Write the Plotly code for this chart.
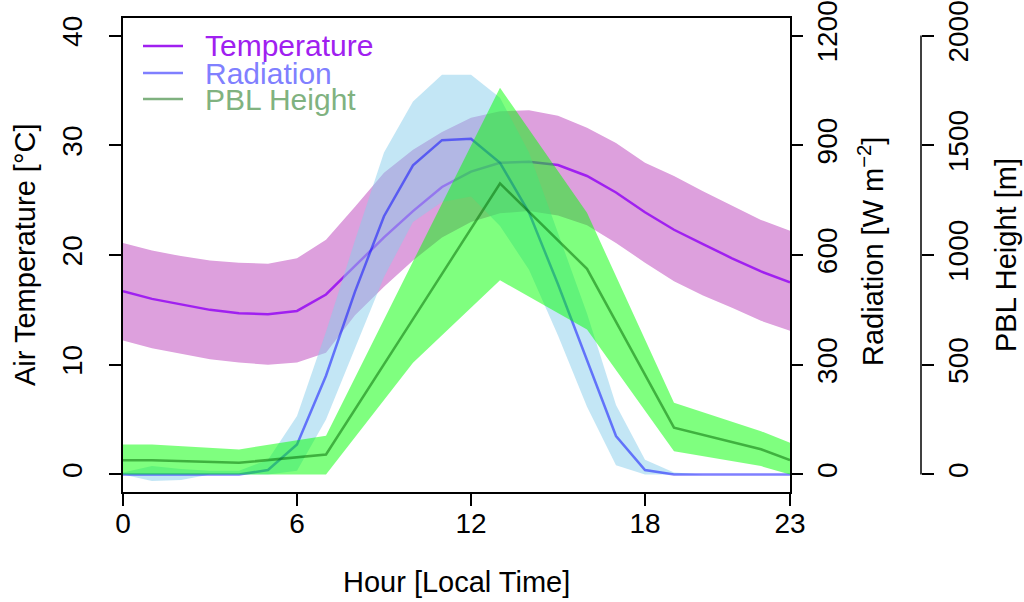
import plotly.graph_objects as go

# ---------------- data ----------------
hours = list(range(24))

temp_mean = [16.7, 16.0, 15.5, 15.0, 14.7, 14.6, 14.9, 16.4, 19.0, 21.6, 24.0, 26.2,
             27.6, 28.4, 28.5, 28.2, 27.2, 25.7, 23.9, 22.3, 21.0, 19.7, 18.5, 17.5]
temp_hi = [21.1, 20.4, 19.9, 19.5, 19.3, 19.2, 19.7, 21.4, 24.4, 27.5, 29.6, 31.2,
           32.5, 33.1, 33.2, 32.7, 31.6, 30.2, 28.4, 27.2, 25.8, 24.5, 23.2, 22.2]
temp_lo = [12.2, 11.5, 11.0, 10.5, 10.2, 10.0, 10.2, 11.1, 14.5, 17.1, 19.5, 21.6,
           23.0, 23.8, 24.0, 23.6, 22.7, 21.1, 19.3, 17.6, 16.3, 15.2, 14.0, 13.1]

rad_mean = [0, 0, 0, 0, 0, 12, 82, 270, 500, 706, 845, 914,
            918, 852, 716, 520, 310, 105, 12, 0, 0, 0, 0, 0]
rad_hi = [5, 23, 15, 10, 10, 40, 160, 390, 640, 880, 1020, 1093,
          1093, 1030, 880, 660, 440, 190, 40, 5, 0, 0, 0, 0]
rad_lo = [0, -18, -15, 0, 0, 0, 10, 150, 345, 540, 690, 745,
          760, 679, 560, 380, 185, 25, 0, 0, 0, 0, 0, 0]

pbl_hours = [0, 1, 4, 7, 10, 13, 16, 19, 22, 23]
pbl_mean = [65, 65, 53, 91, 708, 1326, 937, 213, 115, 65]
pbl_hi = [137, 137, 114, 176, 970, 1762, 1192, 327, 197, 144]
pbl_lo = [0, 0, 0, 0, 509, 885, 660, 106, 38, 0]

x_ticks = [0, 6, 12, 18, 23]
temp_ticks = [0, 10, 20, 30, 40]
rad_ticks = [0, 300, 600, 900, 1200]
pbl_ticks = [0, 500, 1000, 1500, 2000]

# ---------------- styling ----------------
FONT = "Liberation Sans, Arial, Helvetica, sans-serif"
FS_TICK = 28
FS = 29
FS_LEG = 30
C_TEMP = "#A020F0"
C_TEMP_BAND = "#DDA0DD"
C_RAD = "rgba(0,0,255,0.5)"
C_RAD_BAND = "rgba(135,206,235,0.5)"
C_PBL = "rgba(0,100,0,0.5)"
C_PBL_BAND = "rgba(0,255,0,0.5)"

W, H = 1024, 602
ML, MR, MT, MB = 123, 20, 18, 110
PW = W - ML - MR
PH = H - MT - MB
x_end = (790 - ML) / PW
y3_pos = (921 - ML) / PW


def px(xp):
    return (xp - ML) / PW


def py(yp):
    return (H - MB - yp) / PH


def band(xs, lo, hi, color, yaxis):
    return go.Scatter(x=list(xs) + list(xs)[::-1], y=list(hi) + list(lo)[::-1],
                      fill="toself", fillcolor=color, line=dict(width=0),
                      mode="lines", hoverinfo="skip", showlegend=False, yaxis=yaxis)


fig = go.Figure()
fig.add_trace(band(hours, temp_lo, temp_hi, C_TEMP_BAND, "y"))
fig.add_trace(go.Scatter(x=hours, y=temp_mean, mode="lines", name="Temperature",
                         line=dict(color=C_TEMP, width=2.5), yaxis="y", showlegend=False))
fig.add_trace(band(hours, rad_lo, rad_hi, C_RAD_BAND, "y2"))
fig.add_trace(go.Scatter(x=hours, y=rad_mean, mode="lines", name="Radiation",
                         line=dict(color=C_RAD, width=2.5), yaxis="y2", showlegend=False))
fig.add_trace(band(pbl_hours, pbl_lo, pbl_hi, C_PBL_BAND, "y3"))
fig.add_trace(go.Scatter(x=pbl_hours, y=pbl_mean, mode="lines", name="PBL Height",
                         line=dict(color=C_PBL, width=2.5), yaxis="y3", showlegend=False))

axis_common = dict(showgrid=False, zeroline=False, ticks="outside", ticklen=12,
                   tickwidth=1.5, tickcolor="black", automargin=False,
                   ticklabeloverflow="allow",
                   tickfont=dict(family=FONT, size=FS_TICK, color="black"))

fig.update_layout(
    template="none",
    width=W, height=H,
    margin=dict(l=ML, r=MR, t=MT, b=MB, pad=0),
    paper_bgcolor="white", plot_bgcolor="white",
    font=dict(family=FONT, size=FS, color="black"),
    showlegend=False,
    xaxis=dict(domain=[0, x_end], range=[0, 23], tickvals=x_ticks,
               showline=True, mirror=True, linecolor="black", linewidth=1.5,
               ticklabelstandoff=-6, **axis_common),
    yaxis=dict(range=[-1.6, 41.6], tickvals=temp_ticks, tickangle=-90,
               showline=True, mirror=True, linecolor="black", linewidth=1.5,
               ticklabelstandoff=16, **axis_common),
    yaxis2=dict(range=[-48, 1248], tickvals=rad_ticks, tickangle=-90,
                overlaying="y", side="right", anchor="x", showline=False,
                ticklabelstandoff=0, **axis_common),
    yaxis3=dict(range=[-80, 2080], tickvals=pbl_ticks, tickangle=-90,
                overlaying="y", side="right", anchor="free", position=y3_pos,
                showline=False, ticklabelstandoff=0, **axis_common),
)

# PBL axis line (only between first and last tick, as in the reference)
fig.add_shape(type="line", xref="paper", yref="y3", x0=y3_pos, x1=y3_pos,
              y0=pbl_ticks[0], y1=pbl_ticks[-1], line=dict(color="black", width=1.5))

# axis titles
title_font = dict(family=FONT, size=FS, color="black")
fig.add_annotation(text="Hour [Local Time]", xref="paper", yref="paper",
                   x=px(456.5), y=py(582), xanchor="center", yanchor="middle",
                   showarrow=False, font=title_font)
fig.add_annotation(text="Air Temperature [°C]", xref="paper", yref="paper",
                   x=px(25), y=py(255), xanchor="center", yanchor="middle",
                   textangle=-90, showarrow=False, font=title_font)
fig.add_annotation(text="Radiation [W m<sup>−2</sup>]", xref="paper", yref="paper",
                   x=px(871), y=py(252), xanchor="center", yanchor="middle",
                   textangle=-90, showarrow=False, font=title_font)
fig.add_annotation(text="PBL Height [m]", xref="paper", yref="paper",
                   x=px(1006), y=py(255), xanchor="center", yanchor="middle",
                   textangle=-90, showarrow=False, font=title_font)

# legend (drawn manually to match the compact R legend)
legend_items = [("Temperature", C_TEMP, "#A020F0", 46),
                ("Radiation", C_RAD, "#8080FF", 73),
                ("PBL Height", C_PBL, "#80B280", 99)]
for label, lc, tc, ypix in legend_items:
    fig.add_shape(type="line", xref="paper", yref="paper",
                  x0=px(143), x1=px(183), y0=py(ypix), y1=py(ypix),
                  line=dict(color=lc, width=2.5))
    fig.add_annotation(text=label, xref="paper", yref="paper",
                       x=px(203), y=py(ypix), xanchor="left", yanchor="middle",
                       showarrow=False, font=dict(family=FONT, size=FS_LEG, color=tc))

fig.write_html("out.html")
